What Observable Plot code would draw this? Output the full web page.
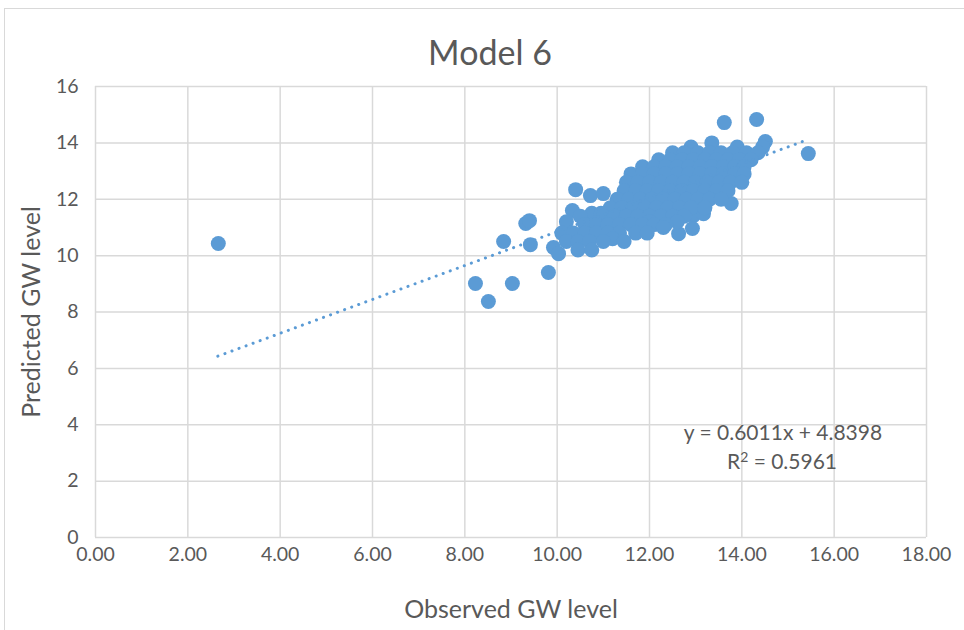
<!DOCTYPE html>
<html>
<head>
<meta charset="utf-8">
<script src="https://cdn.jsdelivr.net/npm/d3@7"></script>
<script src="https://cdn.jsdelivr.net/npm/@observablehq/plot@0.6"></script>
<style>
  html, body { margin: 0; padding: 0; background: #fff; }
  #wrap { position: relative; width: 964px; height: 630px; overflow: hidden; font-family: Lato, "Open Sans", sans-serif; color: #595959; }
  #frame { position: absolute; left: 4px; top: 8px; width: 1000px; height: 700px; border-left: 1px solid #d9d9d9; border-top: 1px solid #d9d9d9; }
  #title { position: absolute; left: 0; top: 0; width: 980px; height: 70px; text-align: center; font-size: 34px; line-height: 104px; }
  #chart { position: absolute; left: 0; top: 70px; }
  .eq { position: absolute; font-size: 21px; text-align: center; white-space: nowrap; }
  .eq sup { font-size: 14px; vertical-align: 7px; line-height: 0; }
</style>
</head>
<body>
<div id="wrap">
  <div id="frame"></div>
  <div id="title">Model 6</div>
  <div id="chart"></div>
  <div class="eq" style="left:683px; top:419px; width:200px;">y = 0.6011x + 4.8398</div>
  <div class="eq" style="left:682px; top:448px; width:200px;">R<sup>2</sup> = 0.5961</div>
</div>
<script>
const title = "Model 6";
const xLabel = "Observed GW level";
const yLabel = "Predicted GW level";
const xTicks = [0, 2, 4, 6, 8, 10, 12, 14, 16, 18];
const yTicks = [0, 2, 4, 6, 8, 10, 12, 14, 16];
const trendSlope = 0.6011;
const trendIntercept = 4.8398;
const trendRange = [2.65, 15.4];

const observed = [
  2.66, 8.23, 8.51, 9.03, 8.84, 9.42, 9.32, 9.40, 9.81, 9.92, 10.03, 10.40, 10.72, 11.00, 10.33,
  15.44, 13.62, 14.32, 14.51, 14.45, 13.77, 12.95, 13.17, 12.63, 12.93,
  13.35,
  12.9, 13.9,
  12.5, 12.75, 13.05, 13.3, 13.55, 13.8, 14.1, 14.35,
  12.2, 12.45, 12.7, 12.95, 13.2, 13.45, 13.7, 13.95, 14.2,
  11.85, 12.1, 12.35, 12.6, 12.85, 13.1, 13.35, 13.6, 13.85, 14.05,
  11.6, 11.85, 12.1, 12.35, 12.6, 12.85, 13.1, 13.35, 13.6, 13.85, 14.05,
  11.5, 11.75, 12.0, 12.25, 12.5, 12.75, 13.0, 13.25, 13.5, 13.75, 14.0,
  11.45, 11.7, 11.95, 12.2, 12.45, 12.7, 12.95, 13.2, 13.45, 13.7,
  11.3, 11.55, 11.8, 12.05, 12.3, 12.55, 12.8, 13.05, 13.3, 13.55,
  11.15, 11.4, 11.65, 11.9, 12.15, 12.4, 12.65, 12.9, 13.2,
  10.75, 10.95,
  10.5, 11.0, 11.25, 11.5, 11.75, 12.0, 12.25, 12.5, 12.75,
  10.2, 12.0, 12.6,
  10.6, 10.85, 11.1, 11.35, 11.6, 11.85, 12.1, 12.35,
  12.3,
  10.1, 10.35, 10.6, 10.85, 11.1, 11.35, 11.7, 11.95,
  11.2,
  10.2, 10.45, 10.7, 11.0, 11.45,
  10.45, 10.75
];
const predicted = [
  10.43, 9.01, 8.37, 9.01, 10.50, 10.39, 11.14, 11.24, 9.40, 10.29, 10.07, 12.34, 12.13, 12.20, 11.60,
  13.62, 14.72, 14.83, 14.05, 13.85, 11.85, 11.42, 11.49, 10.78, 10.96,
  14.0,
  13.85, 13.85,
  13.65, 13.65, 13.65, 13.65, 13.65, 13.65, 13.65, 13.65,
  13.4, 13.4, 13.4, 13.4, 13.4, 13.4, 13.4, 13.4, 13.4,
  13.15, 13.15, 13.15, 13.15, 13.15, 13.15, 13.15, 13.15, 13.15, 13.15,
  12.9, 12.9, 12.9, 12.9, 12.9, 12.9, 12.9, 12.9, 12.9, 12.9, 12.9,
  12.6, 12.6, 12.6, 12.6, 12.6, 12.6, 12.6, 12.6, 12.6, 12.6, 12.6,
  12.3, 12.3, 12.3, 12.3, 12.3, 12.3, 12.3, 12.3, 12.3, 12.3,
  12.0, 12.0, 12.0, 12.0, 12.0, 12.0, 12.0, 12.0, 12.0, 12.0,
  11.7, 11.7, 11.7, 11.7, 11.7, 11.7, 11.7, 11.7, 11.7,
  11.5, 11.5,
  11.4, 11.4, 11.4, 11.4, 11.4, 11.4, 11.4, 11.4, 11.4,
  11.2, 11.2, 11.2,
  11.1, 11.1, 11.1, 11.1, 11.1, 11.1, 11.1, 11.1,
  11.0,
  10.8, 10.8, 10.8, 10.8, 10.8, 10.8, 10.8, 10.8,
  10.6,
  10.5, 10.5, 10.5, 10.5, 10.5,
  10.2, 10.2
];

const points = observed.map((x, i) => ({x, y: predicted[i]}));
const trend = trendRange.map(x => ({x, y: trendSlope * x + trendIntercept}));

document.getElementById("title").textContent = title;

const blue = "#5b9bd5";
const grid = "#d9d9d9";

const chart = Plot.plot({
  width: 964,
  height: 560,
  marginLeft: 95,
  marginRight: 38,
  marginTop: 16,
  marginBottom: 93,
  style: { fontFamily: "Lato, 'Open Sans', sans-serif", fontSize: "19.5px", color: "#595959", background: "transparent", overflow: "visible" },
  x: { domain: [0, 18] },
  y: { domain: [0, 16] },
  marks: [
    Plot.gridX(xTicks, { stroke: grid, strokeOpacity: 1, strokeWidth: 1.5 }),
    Plot.gridY(yTicks, { stroke: grid, strokeOpacity: 1, strokeWidth: 1.5 }),
    Plot.axisX(xTicks, { tickSize: 0, tickPadding: 10, tickFormat: d3.format(".2f"), fill: "#595959",
      label: xLabel, labelAnchor: "center", labelArrow: "none", labelOffset: 80, fontSize: 19.5 }),
    Plot.axisY(yTicks, { tickSize: 0, tickPadding: 17, fill: "#595959",
      label: yLabel, labelAnchor: "center", labelArrow: "none", labelOffset: 73, fontSize: 19.5 }),
    Plot.dot(points, { x: "x", y: "y", r: 7.5, fill: blue, stroke: blue, strokeWidth: 0 }),
    Plot.line(trend, { x: "x", y: "y", stroke: blue, strokeWidth: 3, strokeDasharray: "0.1 7.4", strokeLinecap: "round" })
  ]
});
document.getElementById("chart").appendChild(chart);
chart.querySelectorAll("g[aria-label='x-axis label'] text, g[aria-label='y-axis label'] text").forEach(t => t.setAttribute("font-size", "25px"));
</script>
</body>
</html>
